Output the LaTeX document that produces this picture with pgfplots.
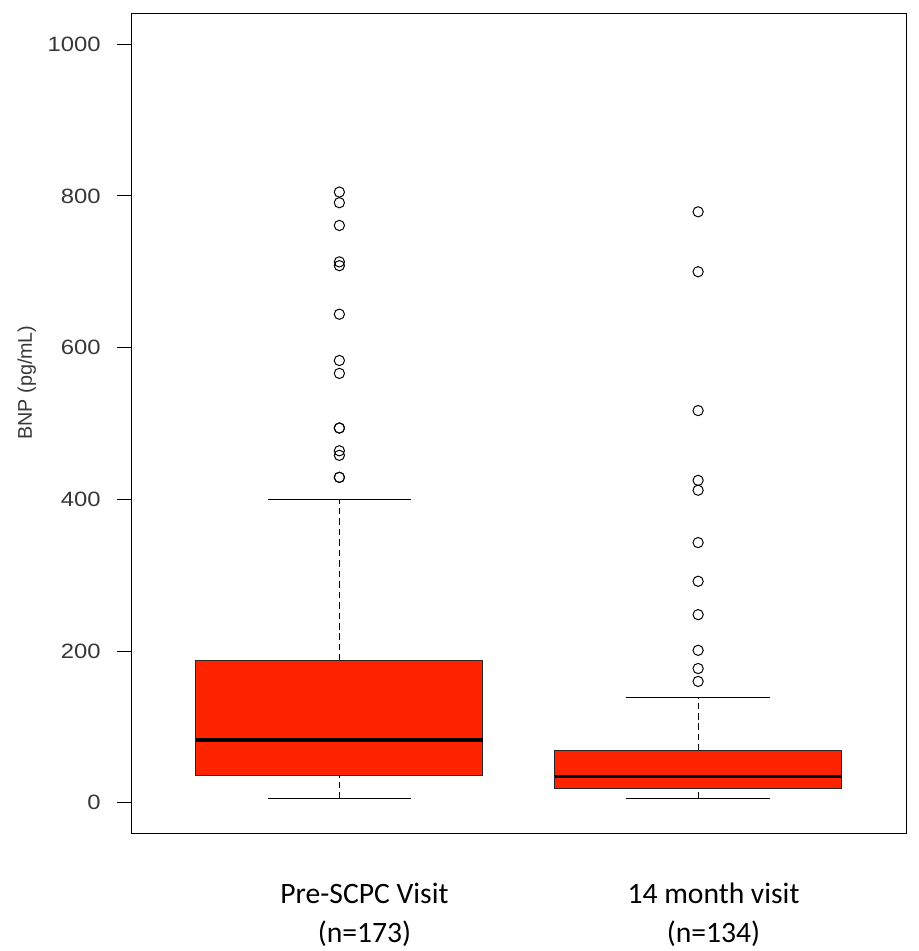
\documentclass[border=0pt]{standalone}
\usepackage{fontspec}
\setmainfont{Liberation Sans}
\newfontfamily\calibri{Carlito}
\usepackage{graphicx}
\usepackage{pgfplots}
\pgfplotsset{compat=1.18}
\definecolor{boxred}{RGB}{255,36,0}
\definecolor{txtgray}{RGB}{55,55,55}

\pgfplotsset{
  boxst/.style={fill=boxred, draw=black!85, line width=0.5pt, line join=miter},
  medst/.style={black, line width=1.8pt},
  whisk/.style={black, line width=0.5pt, dash pattern=on 3.3pt off 2pt},
  capst/.style={black, line width=0.5pt},
  outl/.style={only marks, mark=o, mark size=2.6pt,
    mark options={black, line width=0.5pt, fill=none}},
}

\begin{document}
\begin{tikzpicture}
\begin{axis}[
    scale only axis,
    width=392.5pt, height=415pt,
    xmin=0.42, xmax=2.58,
    ymin=-40, ymax=1040,
    axis line style={line width=0.6pt},
    xtick={1.07,2.043},
    xticklabels={{Pre-SCPC Visit\\(n=173)},{14 month visit\\(n=134)}},
    x tick label style={font=\calibri\fontsize{15}{20}\selectfont, align=center,
      inner ysep=2pt, yshift=-16pt, text=black},
    xtick style={draw=none},
    ytick={0,200,400,600,800,1000},
    yticklabel={\scalebox{1.15}[1]{\pgfmathprintnumber{\tick}}},
    ytick pos=left,
    tick align=outside,
    major tick length=7pt,
    ytick style={black, line width=0.5pt},
    y tick label style={font=\fontsize{10.5}{12}\selectfont, text=txtgray, xshift=-5pt},
    /pgf/number format/assume math mode=true,
    /pgf/number format/1000 sep={},
    ylabel={BNP (pg/mL)},
    every axis y label/.style={at={(axis description cs:-0.135,0.55)}, rotate=90, anchor=center,
      font=\fontsize{10}{12}\selectfont, text=txtgray},
  ]
  % ---- Pre-SCPC visit: whiskers 5.6 / 400, box 36-187, median 83
  \addplot[whisk] coordinates {(1,187) (1,400)};
  \addplot[whisk] coordinates {(1,5.6) (1,36)};
  \addplot[capst] coordinates {(0.8,400) (1.2,400)};
  \addplot[capst] coordinates {(0.8,5.6) (1.2,5.6)};
  \addplot[boxst] coordinates {(0.6,36) (1.4,36) (1.4,187) (0.6,187)} -- cycle;
  \addplot[medst] coordinates {(0.6,83) (1.4,83)};
  \addplot[outl] coordinates {
    (1,805) (1,791) (1,761) (1,713) (1,708) (1,644) (1,583) (1,566)
    (1,494) (1,494) (1,464) (1,458) (1,429) (1,429)
  };
  % ---- 14 month visit: whiskers 5.6 / 139, box 19.5-68.4, median 34.7
  \addplot[whisk] coordinates {(2,68.4) (2,139)};
  \addplot[whisk] coordinates {(2,5.6) (2,19.5)};
  \addplot[capst] coordinates {(1.8,139) (2.2,139)};
  \addplot[capst] coordinates {(1.8,5.6) (2.2,5.6)};
  \addplot[boxst] coordinates {(1.6,19.5) (2.4,19.5) (2.4,68.4) (1.6,68.4)} -- cycle;
  \addplot[medst] coordinates {(1.6,34.7) (2.4,34.7)};
  \addplot[outl] coordinates {
    (2,779) (2,700) (2,517) (2,425) (2,412) (2,343) (2,292) (2,248)
    (2,201) (2,177) (2,160)
  };
\end{axis}
\path (current axis.north east) ++(6pt,4pt);
\path (current axis.south west) ++(-66.5pt,0pt);
\end{tikzpicture}
\end{document}
